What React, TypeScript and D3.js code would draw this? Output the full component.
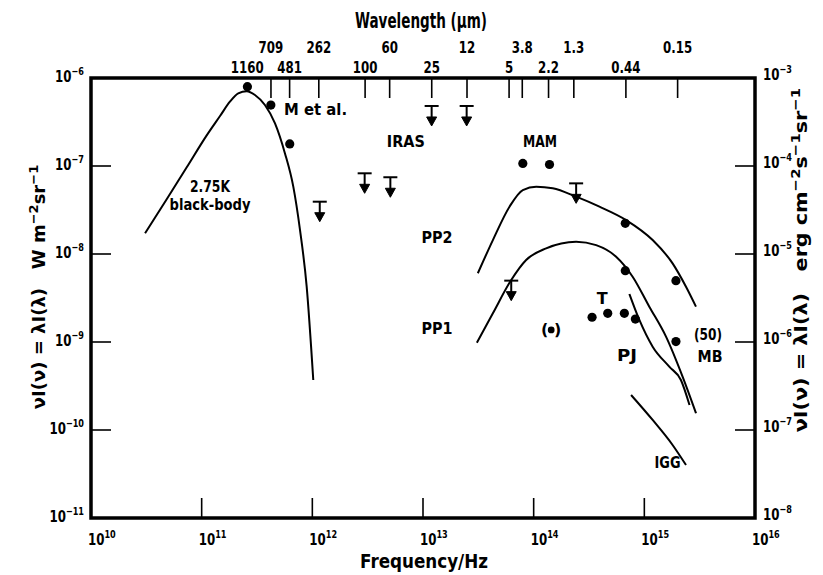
import React from 'react';
import * as d3 from 'd3';

// ---------- data (frequency in Hz, intensity in W m^-2 sr^-1) ----------
const blackBodyFreq = [3.08e10, 4.83e10, 7.33e10, 1.11e11, 1.465e11, 1.8e11, 2.14e11, 2.55e11, 3.03e11, 3.73e11, 4.6e11, 5.66e11, 6.73e11, 7.74e11, 8.89e11, 1.02e12];
const blackBodyVal = [1.72e-8, 4.19e-8, 9.66e-8, 2.23e-7, 3.7e-7, 5.38e-7, 6.7e-7, 7.06e-7, 6.41e-7, 4.93e-7, 3.05e-7, 1.39e-7, 5.82e-8, 1.87e-8, 4.26e-9, 3.7e-10];

const pp2Freq = [3.13e13, 4.28e13, 6.05e13, 7.98e13, 1.055e14, 1.487e14, 2.42e14, 3.93e14, 6.84e14, 1.189e15, 1.8e15, 2.38e15, 2.93e15];
const pp2Val = [6.04e-9, 1.44e-8, 3.45e-8, 5.33e-8, 5.82e-8, 5.58e-8, 4.48e-8, 3.45e-8, 2.43e-8, 1.44e-8, 7.83e-9, 4.25e-9, 2.52e-9];

const pp1Freq = [3.07e13, 4.28e13, 6.27e13, 8.55e13, 1.297e14, 2.42e14, 3.67e14, 5.56e14, 7.84e14, 1.109e15, 1.57e15, 2.216e15, 2.93e15];
const pp1Val = [9.82e-10, 2.12e-9, 5.07e-9, 8.55e-9, 1.16e-8, 1.38e-8, 1.26e-8, 9.31e-9, 5.52e-9, 2.52e-9, 1.15e-9, 4.04e-10, 1.55e-10];

const pjFreq = [7.33e14, 9.02e14, 1.189e15, 1.68e15, 2.14e15, 2.56e15];
const pjVal = [3.51e-9, 1.78e-9, 8.85e-10, 5.24e-10, 3.7e-10, 1.92e-10];

const iggFreq = [7.59e14, 1.189e15, 1.8e15, 2.38e15];
const iggVal = [2.5e-10, 1.3e-10, 6.76e-11, 4.0e-11];

const dotFreq = [2.59e11, 4.22e11, 6.25e11, 7.98e13, 1.39e14, 6.73e14, 6.73e14, 1.93e15, 1.93e15, 3.37e14, 4.67e14, 6.6e14, 8.3e14];
const dotVal = [7.96e-7, 4.93e-7, 1.78e-7, 1.07e-7, 1.04e-7, 2.23e-8, 6.46e-9, 4.98e-9, 1.01e-9, 1.91e-9, 2.12e-9, 2.12e-9, 1.82e-9];

const uncertainFreq = [1.44e14];
const uncertainVal = [1.37e-9];

const limitFreq = [1.167e12, 2.97e12, 5.07e12, 1.197e13, 2.48e13, 2.42e14, 6.27e13];
const limitVal = [3.93e-8, 8.26e-8, 7.45e-8, 4.81e-7, 4.81e-7, 6.35e-8, 4.98e-9];

const freqTickExps = [10, 11, 12, 13, 14, 15, 16];
const leftTickExps = [-6, -7, -8, -9, -10, -11];
const rightTickExps = [-3, -4, -5, -6, -7, -8];
const wavelengthsUpper = ['709', '262', '60', '12', '3.8', '1.3', '0.15'];
const wavelengthsLower = ['1160', '481', '100', '25', '5', '2.2', '0.44'];

const labelTexts = ['M et al.', 'IRAS', '2.75K', 'black-body', 'MAM', 'PP2', 'PP1', 'T', 'PJ', '(50)', 'MB', 'IGG'];
const labelFreq = [1.07e12, 7.0e12, 1.19e11, 1.19e11, 1.14e14, 1.34e13, 1.34e13, 4.12e14, 6.97e14, 3.76e15, 3.92e15, 1.62e15];
const labelVal = [4.4e-7, 1.9e-7, 5.93e-8, 3.7e-8, 1.9e-7, 1.54e-8, 1.46e-9, 3.16e-9, 7.2e-10, 1.24e-9, 7.0e-10, 4.28e-11];

const C_UM = 2.998e14; // speed of light in µm/s

// ---------- layout ----------
const W = 823, H = 575;
const X0 = 91, X1 = 755, Y0 = 78, Y1 = 518;
const FONT = "'DejaVu Sans', sans-serif";
const LABEL_WIDTHS: Record<string, number> = {
  'M et al.': 63, 'IRAS': 38, '2.75K': 40, 'black-body': 81, 'MAM': 34, 'PP2': 31, 'PP1': 31,
  'T': 10, 'PJ': 20, '(50)': 28, 'MB': 25, 'IGG': 26,
};
const TICK_SX = 0.74;

function Sup({ base, exp, supSize = 11 }: { base: string; exp: string; supSize?: number }) {
  return (
    <>
      {base}
      <tspan dy={-7} fontSize={supSize}>{exp}</tspan>
    </>
  );
}

export default function App() {
  const x = d3.scaleLog().domain([1e10, 1e16]).range([X0, X1]);
  const y = d3.scaleLog().domain([1e-11, 1e-6]).range([Y1, Y0]);
  const y2 = d3.scaleLog().domain([1e-8, 1e-3]).range([Y1, Y0]);

  const line = d3.line<[number, number]>()
    .x(d => x(d[0]))
    .y(d => y(d[1]))
    .curve(d3.curveMonotoneX);

  const series = [
    [blackBodyFreq, blackBodyVal],
    [pp2Freq, pp2Val],
    [pp1Freq, pp1Val],
    [pjFreq, pjVal],
    [iggFreq, iggVal],
  ];

  const wlTicks = [...wavelengthsUpper.map(w => ({ w, row: 0 })), ...wavelengthsLower.map(w => ({ w, row: 1 }))];

  return (
    <svg width={W} height={H} style={{ display: 'block', position: 'absolute', left: 0, top: 0 }} fontFamily={FONT} fontWeight="bold">
      <rect width={W} height={H} fill="#fff" />

      {/* curves */}
      {series.map(([fs, vs], i) => (
        <path key={i} d={line(fs.map((f, j) => [f, vs[j]]) as [number, number][]) || ''} fill="none" stroke="#000" strokeWidth={2} />
      ))}

      {/* dots */}
      {dotFreq.map((f, i) => (
        <circle key={i} cx={x(f)} cy={y(dotVal[i])} r={4.6} fill="#000" />
      ))}
      {uncertainFreq.map((f, i) => (
        <g key={i}>
          <circle cx={x(f)} cy={y(uncertainVal[i])} r={3.4} fill="#000" />
          <text x={x(f) - 6.5} y={y(uncertainVal[i]) + 5.5} fontSize={16} textAnchor="middle">(</text>
          <text x={x(f) + 6.5} y={y(uncertainVal[i]) + 5.5} fontSize={16} textAnchor="middle">)</text>
        </g>
      ))}

      {/* upper limits */}
      {limitFreq.map((f, i) => {
        const cx = x(f), cy = y(limitVal[i]);
        return (
          <g key={i} stroke="#000" strokeWidth={2}>
            <line x1={cx - 7} x2={cx + 7} y1={cy} y2={cy} />
            <line x1={cx} x2={cx} y1={cy} y2={cy + 13} />
            <path d={`M${cx - 5},${cy + 11}L${cx + 5},${cy + 11}L${cx},${cy + 20}Z`} fill="#000" strokeWidth={1} />
          </g>
        );
      })}

      {/* labels */}
      {labelTexts.map((t, i) => {
        const w = LABEL_WIDTHS[t];
        return (
          <text key={i} x={x(labelFreq[i]) - w / 2} y={y(labelVal[i]) + 6} fontSize={16}
            textLength={t.length > 1 ? w : undefined} lengthAdjust="spacingAndGlyphs">{t}</text>
        );
      })}

      {/* frame */}
      <rect x={X0} y={Y0} width={X1 - X0} height={Y1 - Y0} fill="none" stroke="#000" strokeWidth={3.5} />

      {/* bottom ticks */}
      {freqTickExps.map(e => (
        <g key={e}>
          {e > 10 && e < 16 && <line x1={x(10 ** e)} x2={x(10 ** e)} y1={Y1} y2={Y1 - 20} stroke="#000" strokeWidth={1.6} />}
          <g transform={`translate(${x(10 ** e) - 3},545) scale(${TICK_SX},1)`}>
            <text fontSize={16}><Sup base="10" exp={String(e)} /></text>
          </g>
        </g>
      ))}
      <text x={424} y={568} fontSize={20} textAnchor="middle" textLength={128} lengthAdjust="spacingAndGlyphs">Frequency/Hz</text>

      {/* left ticks */}
      {leftTickExps.map(e => (
        <g key={e}>
          {e > -11 && e < -6 && <line x1={X0} x2={X0 + 20} y1={y(10 ** e)} y2={y(10 ** e)} stroke="#000" strokeWidth={1.6} />}
          <g transform={`translate(84,${y(10 ** e) + 4}) scale(${TICK_SX},1)`}>
            <text fontSize={16} textAnchor="end"><Sup base="10" exp={'\u2212' + (-e)} /></text>
          </g>
        </g>
      ))}

      {/* right ticks */}
      {rightTickExps.map(e => (
        <g key={e}>
          {e > -8 && e < -3 && <line x1={X1} x2={X1 - 20} y1={y2(10 ** e)} y2={y2(10 ** e)} stroke="#000" strokeWidth={1.6} />}
          <g transform={`translate(763,${y2(10 ** e) + 2}) scale(${TICK_SX},1)`}>
            <text fontSize={16}><Sup base="10" exp={'\u2212' + (-e)} /></text>
          </g>
        </g>
      ))}

      {/* top wavelength ticks */}
      {wlTicks.map(({ w, row }) => {
        const fx = x(C_UM / parseFloat(w));
        return (
          <g key={w}>
            {w !== '1160' && <line x1={fx} x2={fx} y1={Y0} y2={Y0 + 20} stroke="#000" strokeWidth={1.6} />}
            <g transform={`translate(${fx},${row === 0 ? 53 : 73}) scale(${TICK_SX},1)`}>
              <text fontSize={16} textAnchor="middle">{w}</text>
            </g>
          </g>
        );
      })}
      <text x={421} y={28} fontSize={21} textAnchor="middle" textLength={132} lengthAdjust="spacingAndGlyphs">Wavelength (µm)</text>

      {/* axis titles */}
      <text transform="translate(45,287) rotate(-90)" fontSize={18} textAnchor="middle" xmlSpace="preserve">
        νI(ν) = λI(λ)   W m<tspan dy={-7} fontSize={13}>−2</tspan><tspan dy={7}>sr</tspan><tspan dy={-7} fontSize={13}>−1</tspan>
      </text>
      <g transform="translate(807,260) rotate(-90) scale(1.15,1)">
        <text fontSize={18} textAnchor="middle" xmlSpace="preserve">
          νI(ν) = λI(λ)   erg cm<tspan dy={-7} fontSize={13}>−2</tspan><tspan dy={7}>s</tspan><tspan dy={-7} fontSize={13}>−1</tspan><tspan dy={7}>sr</tspan><tspan dy={-7} fontSize={13}>−1</tspan>
        </text>
      </g>
    </svg>
  );
}
